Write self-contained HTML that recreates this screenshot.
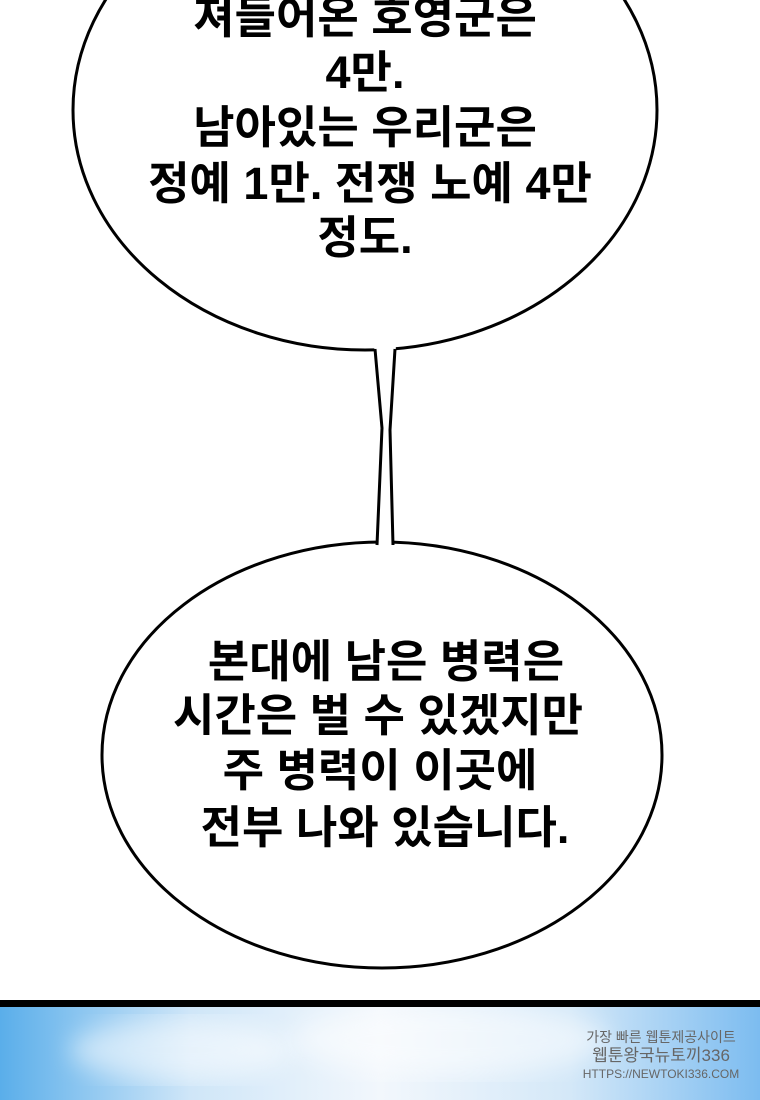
<!DOCTYPE html>
<html><head><meta charset="utf-8"><style>
html,body{margin:0;padding:0;width:760px;height:1100px;overflow:hidden;background:#fff}
svg{display:block}
text{font-family:"Liberation Sans","Noto Sans CJK KR",sans-serif;font-weight:700;font-size:45px;fill:#000;text-anchor:middle}
</style></head><body>
<svg width="760" height="1100" viewBox="0 0 760 1100">
<defs>
<linearGradient id="sky" x1="0" y1="0" x2="1" y2="0">
<stop offset="0" stop-color="#5aaeea"/><stop offset="0.25" stop-color="#cfe6f8"/><stop offset="0.5" stop-color="#f2f7fc"/><stop offset="0.75" stop-color="#d4e8f8"/><stop offset="1" stop-color="#7cbcf0"/>
</linearGradient>
<filter id="b"><feGaussianBlur stdDeviation="12"/></filter>
</defs>
<rect x="0" y="1007" width="760" height="93" fill="url(#sky)"/>
<ellipse cx="180" cy="1050" rx="110" ry="30" fill="#fff" opacity="0.5" filter="url(#b)"/>
<ellipse cx="450" cy="1040" rx="160" ry="35" fill="#fff" opacity="0.5" filter="url(#b)"/>
<rect x="0" y="1000" width="760" height="7" fill="#000"/>
<ellipse cx="365" cy="110" rx="292" ry="240" fill="#fff" stroke="#000" stroke-width="3"/>
<ellipse cx="382" cy="755" rx="280" ry="213" fill="#fff" stroke="#000" stroke-width="3"/>
<polygon points="374,345 396,345 390,430 393,548 377,548 382,428" fill="#fff"/>
<polyline points="375,349 382,428 377,545" fill="none" stroke="#000" stroke-width="3"/>
<polyline points="395,349 390,430 393,545" fill="none" stroke="#000" stroke-width="3"/>
<text x="365" y="33">져들어온 호영군은</text>
<text x="365" y="88">4만.</text>
<text x="365" y="143">남아있는 우리군은</text>
<text x="370" y="199">정예 1만. 전쟁 노예 4만</text>
<text x="365" y="253">정도.</text>
<text x="386" y="677">본대에 남은 병력은</text>
<text x="378" y="731">시간은 벌 수 있겠지만</text>
<text x="380" y="786">주 병력이 이곳에</text>
<text x="385" y="843">전부 나와 있습니다.</text>
<g>
<text x="661" y="1042" style="font-size:14px;fill:#666;font-weight:400">가장 빠른 웹툰제공사이트</text>
<text x="661" y="1061" style="font-size:17px;fill:#666;font-weight:400">웹툰왕국뉴토끼336</text>
<text x="661" y="1078" style="font-size:12px;fill:#666;font-weight:400">HTTPS://NEWTOKI336.COM</text>
</g>
</svg>
</body></html>
